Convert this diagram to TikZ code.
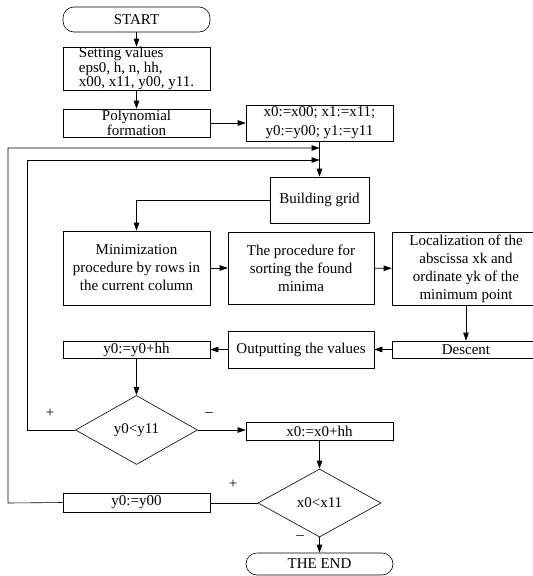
\documentclass[tikz,border=0pt]{standalone}
\usepackage{fontspec}
\setmainfont{Liberation Serif}
\usetikzlibrary{arrows.meta,shapes.geometric}
\begin{document}
\begin{tikzpicture}[x=1pt,y=-1pt,
  every node/.style={font=\fontsize{15}{18}\selectfont, inner sep=0pt},
  box/.style={draw, line width=0.6pt, minimum width=147pt, align=center},
  term/.style={draw, line width=0.6pt, rounded corners=11pt, minimum width=147pt},
  dec/.style={draw, line width=0.6pt, diamond, aspect=1.78, minimum width=122pt, minimum height=69pt},
  line/.style={line width=0.6pt},
  arr/.style={line width=0.6pt, -{Triangle[length=8pt,width=5.5pt]}},
  sign/.style={font=\fontsize{15}{18}\selectfont}]
\useasboundingbox (0,0) rectangle (533,576);
\node[term, minimum height=25pt] (start) at (136.5,19.5) {START};
\node[box, minimum height=43pt, align=left, font=\fontsize{15}{11.8}\selectfont] (set) at (136.5,68.5)
  {Setting values\\eps0, h, n, hh,\\x00, x11, y00, y11.};
\node[box, minimum height=28pt, font=\fontsize{15}{13}\selectfont] (poly) at (136.5,123) {Polynomial\\formation};
\node[box, minimum height=36pt, font=\fontsize{15}{19}\selectfont] (init) at (319.5,123) {x0:=x00; x1:=x11;\\y0:=y00; y1:=y11};
\node[box, minimum width=99pt, minimum height=46pt] (grid) at (319.5,200) {Building grid};
\node[box, minimum height=74pt] (minim) at (136.5,268) {Minimization\\procedure by rows in\\the current column};
\node[box, minimum width=146pt, minimum height=72pt] (sort) at (301,268) {The procedure for\\sorting the found\\minima};
\node[box, minimum width=148pt, minimum height=73pt] (local) at (466,268.5) {Localization of the\\abscissa xk and\\ordinate yk of the\\minimum point};
\node[box, minimum width=148pt, minimum height=17pt] (descent) at (466,349.5) {Descent};
\node[box, minimum width=146pt, minimum height=37pt] (output) at (301,349.5) {Outputting the values};
\node[box, minimum height=17pt] (yinc) at (136.5,349.5) {y0:=y0+hh};
\node[dec] (d1) at (136.5,430) {y0<y11};
\node[box, minimum height=18pt] (xinc) at (319.5,431) {x0:=x0+hh};
\node[dec, minimum width=123pt, minimum height=68pt] (d2) at (319.5,503) {x0<x11};
\node[box, minimum height=19pt] (yreset) at (136.5,502.5) {y0:=y00};
\node[term, minimum height=22pt] (end) at (319.5,564) {THE END};
\coordinate (j1) at (319.5,148);
\coordinate (j2) at (319.5,160);
\coordinate (g1) at (136.5,200);
\coordinate (l1) at (27,430);
\coordinate (l2) at (27,160);
\coordinate (o1) at (8,503);
\coordinate (o2) at (8,148);
\draw[arr] (start) -- (set);
\draw[arr] (set) -- (poly);
\draw[arr] (poly) -- (init);
\draw[arr] (init) -- (grid);
\draw[arr] (grid.west) -- (g1) -- (minim.north);
\draw[arr] (minim) -- (sort);
\draw[arr] (sort) -- (local);
\draw[arr] (local) -- (descent);
\draw[arr] (descent) -- (output);
\draw[arr] (output) -- (yinc);
\draw[arr] (yinc) -- (d1);
\draw[arr] (d1.east) -- (xinc.west |- d1.east);
\draw[arr] (d1.west) -- (l1) -- (l2) -- (j2);
\draw[arr] (xinc) -- (d2);
\draw[line] (d2.west) -- (yreset.east |- d2.west);
\draw[arr] (yreset.west) -- (o1) -- (o2) -- (j1);
\draw[arr] (d2) -- (end);
\node[sign] (p1) at (50,413) {+};
\node[sign] (m1) at (209,415) {\textendash};
\node[sign] (p2) at (233,484) {+};
\node[sign] (m2) at (300,538) {\textendash};
\end{tikzpicture}
\end{document}
